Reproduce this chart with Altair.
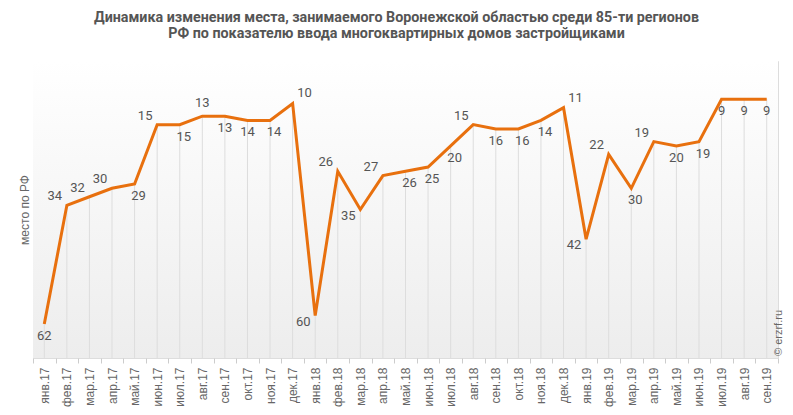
import altair as alt
import pandas as pd

months = ["янв.17", "фев.17", "мар.17", "апр.17", "май.17", "июн.17", "июл.17", "авг.17",
          "сен.17", "окт.17", "ноя.17", "дек.17", "янв.18", "фев.18", "мар.18", "апр.18",
          "май.18", "июн.18", "июл.18", "авг.18", "сен.18", "окт.18", "ноя.18", "дек.18",
          "янв.19", "фев.19", "мар.19", "апр.19", "май.19", "июн.19", "июл.19", "авг.19",
          "сен.19"]
ranks = [62, 34, 32, 30, 29, 15, 15, 13, 13, 14, 14, 10, 60, 26, 35, 27,
         26, 25, 20, 15, 16, 16, 14, 11, 42, 22, 30, 19, 20, 19, 9, 9, 9]
# label placement codes (style): b=below, br=below-right, bl=below-left, u=above, ul=above-left, ur=above-right
label_pos = ["b", "ul", "ul", "ul", "br", "ul", "br", "u", "b", "b", "br", "ur", "bl", "ul", "bl", "ul",
             "br", "br", "br", "ul", "b", "br", "br", "ur", "bl", "ul", "br", "ul", "b", "br", "b", "b", "b"]

offsets = {"b": (0, 12), "br": (4, 12), "bl": (-12, 6), "u": (0, -13), "ul": (-12, -9), "ur": (12, -10)}

df = pd.DataFrame({"month": months, "rank": ranks, "pos": label_pos})

W, H = 745, 297
LINE = "#E8700E"
TXT = "#555555"

x_enc = alt.X("month:N", sort=months, title=None,
              scale=alt.Scale(type="band", paddingInner=0, paddingOuter=0),
              axis=alt.Axis(labelAngle=-90, labelFont="Liberation Sans", labelFontSize=12,
                            labelColor="#666666", domain=False, grid=False, ticks=True,
                            tickBand="extent", tickSize=5, tickColor="#cccccc",
                            labelPadding=4))
y_scale = alt.Scale(domain=[0, 70], reverse=True, nice=False)
y_enc = alt.Y("rank:Q", scale=y_scale,
              axis=alt.Axis(title="место по РФ", labels=False, ticks=False, domain=False,
                            grid=False, titleFont="Liberation Sans", titleFontSize=12,
                            titleColor="#666666", titleFontWeight="normal", titlePadding=2))

base = alt.Chart(df)

bg = base.mark_rect(
    color=alt.LinearGradient(gradient="linear", x1=0, y1=0, x2=0, y2=1,
                             stops=[alt.GradientStop(color="#ffffff", offset=0),
                                    alt.GradientStop(color="#ededed", offset=1)])
).encode(x=alt.value(0), x2=alt.value(W), y=alt.value(0), y2=alt.value(H))

drops = base.mark_rule(color="#dddddd", strokeWidth=1).encode(
    x=x_enc, y=y_enc, y2=alt.value(H))

line = base.mark_line(color=LINE, strokeWidth=3, strokeJoin="miter").encode(x=x_enc, y=y_enc)

texts = []
for code, (dx, dy) in offsets.items():
    texts.append(
        base.transform_filter(alt.datum.pos == code).mark_text(
            dx=dx, dy=dy, font="Roboto", fontSize=13, color=TXT, align="center", baseline="middle"
        ).encode(x=x_enc, y=y_enc, text="rank:Q")
    )

copyright_txt = alt.Chart(pd.DataFrame({"t": ["© erzrf.ru"]})).mark_text(
    angle=270, align="left", baseline="middle",
    font="Liberation Sans", fontSize=11, color="#666666"
).encode(text="t:N", x=alt.value(W + 1), y=alt.value(H - 2))

chart = alt.layer(bg, drops, line, *texts, copyright_txt).properties(
    width=W, height=H,
    padding={"left": 25, "top": 53, "right": 7, "bottom": 52},
    autosize="none",
    title=alt.TitleParams(
        text=["Динамика изменения места, занимаемого Воронежской областью среди 85-ти регионов",
              "РФ по показателю ввода многоквартирных домов застройщиками"],
        font="Roboto", fontSize=14.3, fontWeight="bold", color="#555555", anchor="middle", dx=-9,
        offset=20, lineHeight=16),
).configure_view(stroke="#dcdcdc").configure(background="white")

chart.save("out.html", embed_options={"renderer": "svg", "actions": False})
